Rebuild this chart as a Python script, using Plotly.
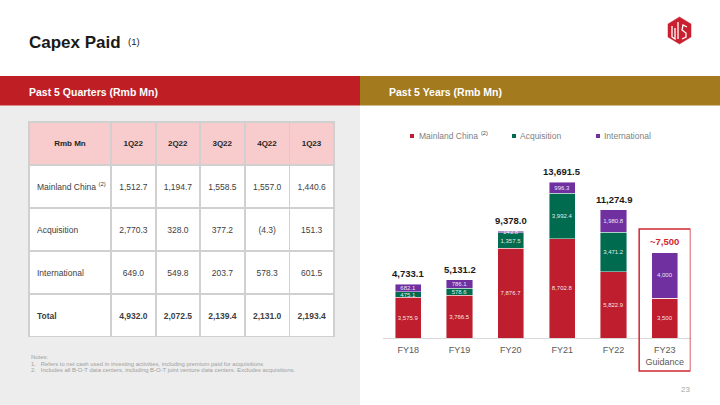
import plotly.graph_objects as go

W, H = 720, 405
def px(x): return x / W
def py(y): return 1 - y / H

FONT = "Arial, Liberation Sans, sans-serif"
NB = "\u00a0"

# ---------------- data ----------------
quarters = ["1Q22", "2Q22", "3Q22", "4Q22", "1Q23"]
row_labels = ["Mainland" + NB + "China" + NB + "<sup>(2)</sup>", "Acquisition", "International", "<b>Total</b>"]
q_mainland = ["1,512.7", "1,194.7", "1,558.5", "1,557.0", "1,440.6"]
q_acquisition = ["2,770.3", "328.0", "377.2", "(4.3)", "151.3"]
q_international = ["649.0", "549.8", "203.7", "578.3", "601.5"]
q_total = ["4,932.0", "2,072.5", "2,139.4", "2,131.0", "2,193.4"]

years = ["FY18", "FY19", "FY20", "FY21", "FY22", "FY23<br>Guidance"]
y_mainland = [3575.9, 3766.5, 7876.7, 8702.8, 5822.9, 3500]
y_acquisition = [475.1, 578.6, 1357.5, 3992.4, 3471.2, 0]
y_international = [682.1, 786.1, 143.8, 996.3, 1980.8, 4000]
total_labels = ["4,733.1", "5,131.2", "9,378.0", "13,691.5", "11,274.9", "~7,500"]

RED = "#BE1E2D"
GREEN = "#006B4F"
PURPLE = "#7030A0"

def fmt(v, guidance=False):
    if v == 0:
        return ""
    return f"{v:,.0f}" if guidance else f"{v:,.1f}"

def labels(vals):
    return [fmt(v, i == len(vals) - 1) for i, v in enumerate(vals)]

fig = go.Figure()

# ---------------- table ----------------
def cell(s):
    # invisible leading line to centre the text vertically in the tall rows
    return "<span style='font-size:7px'>" + NB + "</span><br>" + s

cols = [[cell(s) for s in row_labels]]
for i in range(len(quarters)):
    cols.append([cell(q_mainland[i]), cell(q_acquisition[i]), cell(q_international[i]),
                 cell("<b>" + q_total[i] + "</b>")])

fig.add_trace(go.Table(
    domain=dict(x=[px(29), px(334)], y=[py(337), py(122)]),
    columnwidth=[82, 45, 44, 45, 44.5, 44.5],
    header=dict(
        values=[cell("<b>Rmb" + NB + "Mn</b>")] + [cell("<b>" + q + "</b>") for q in quarters],
        fill_color="#F8CBCD", line=dict(color="#D0D0D0", width=1.5),
        align="center", height=43,
        font=dict(family=FONT, size=8, color="#262626"),
    ),
    cells=dict(
        values=cols,
        fill_color="white", line=dict(color="#D0D0D0", width=1.5),
        align=["left"] + ["center"] * 5, height=43,
        font=dict(family=FONT, size=8.5, color="#404040"),
    ),
))

# ---------------- bars ----------------
for name, vals, col in [("Mainland China", y_mainland, RED),
                        ("Acquisition", y_acquisition, GREEN),
                        ("International", y_international, PURPLE)]:
    fig.add_trace(go.Bar(
        x=years, y=vals, name=name, marker=dict(color=col, line=dict(color="rgba(255,255,255,0.55)", width=0.8)),
        text=labels(vals), textposition="inside", insidetextanchor="middle", textangle=0,
        textfont=dict(family=FONT, size=6, color="rgba(255,255,255,0.9)"),
        showlegend=False, hoverinfo="skip",
    ))

totals = [a + b + c for a, b, c in zip(y_mainland, y_acquisition, y_international)]
annotations = []
for i, (yr, t, lab) in enumerate(zip(years, totals, total_labels)):
    guidance = i == len(years) - 1
    annotations.append(dict(
        x=yr, y=t, xref="x", yref="y", text="<b>" + lab + "</b>", showarrow=False,
        yanchor="bottom", yshift=4 if guidance else 3,
        font=dict(family=FONT, size=9.5, color="#D22630" if guidance else "#1A1A1A"),
    ))

# ---------------- static text ----------------
def txt(x, y, s, size, color, bold=False, anchor="left"):
    annotations.append(dict(
        x=px(x), y=py(y), xref="paper", yref="paper", text=("<b>%s</b>" % s) if bold else s,
        showarrow=False, xanchor=anchor, yanchor="middle",
        font=dict(family=FONT, size=size, color=color),
    ))

txt(27, 42, "Capex Paid", 17, "#1A1A1A", bold=True)
txt(126, 41.5, "(1)", 9.5, "#1A1A1A")
txt(27, 92, "Past 5 Quarters (Rmb Mn)", 10.5, "white", bold=True)
txt(387, 92, "Past 5 Years (Rmb Mn)", 10.5, "white", bold=True)
txt(29, 357, "Notes:", 5.9, "#A0A0A0")
txt(29, 363.5, "1.&nbsp;&nbsp;&nbsp;Refers to net cash used in investing activities, including premium paid for acquisitions", 5.9, "#A0A0A0")
txt(29, 369.5, "2.&nbsp;&nbsp;&nbsp;Includes all B-O-T data centers, including B-O-T joint venture data centers. Excludes acquisitions.", 5.9, "#A0A0A0")
txt(692, 389, "23", 8, "#A6A6A6", anchor="right")

# manual legend
txt(417, 136, "Mainland China", 8.5, "#7F7F7F")
txt(479, 133, "(2)", 5.5, "#404040")
txt(518, 136, "Acquisition", 8.5, "#7F7F7F")
txt(602, 136, "International", 8.5, "#7F7F7F")

shapes = []
def rect(x0, y0, x1, y1, fill, line=None, lw=0, layer="below"):
    shapes.append(dict(type="rect", xref="paper", yref="paper", x0=px(x0), x1=px(x1),
                       y0=py(y1), y1=py(y0), fillcolor=fill, layer=layer,
                       line=dict(color=line or fill, width=lw)))

rect(0, 105.5, 360, 405, "#EDEDED")
rect(0, 76, 360, 105.5, "#BE1E24")
rect(360, 76, 720, 105.5, "#A47A1E")
rect(410, 134, 414, 138, RED, layer="above")
rect(512, 134, 516, 138, GREEN, layer="above")
rect(596, 134, 600, 138, PURPLE, layer="above")

# logo
def path(pts, close=True):
    s = "M " + " L ".join("%f,%f" % (px(x), py(y)) for x, y in pts)
    return s + (" Z" if close else "")
shapes.append(dict(type="path", xref="paper", yref="paper", layer="above",
                   path=path([(668, 24), (679.5, 17), (691, 24), (691, 37), (679.5, 44), (668, 37)]),
                   fillcolor="#C8202F", line=dict(color="#C8202F", width=0.5)))
for seg in [[(672, 26), (672, 37), (675, 39), (675, 28)],
            [(678, 22), (678, 39)],
            [(687, 27), (683, 25), (682, 30), (686, 33), (686, 37), (682, 39)]]:
    shapes.append(dict(type="path", xref="paper", yref="paper", layer="above",
                       path=path(seg, close=False), line=dict(color="white", width=1.3)))

# FY23 guidance box
shapes.append(dict(type="rect", xref="x", yref="paper", x0=4.5, x1=5.5, y0=py(371), y1=py(229),
                   line=dict(color="#D22630", width=1.5), fillcolor="rgba(0,0,0,0)", layer="above"))

fig.update_layout(
    width=W, height=H, margin=dict(l=0, r=0, t=0, b=0),
    paper_bgcolor="white", plot_bgcolor="rgba(0,0,0,0)",
    barmode="stack", bargap=0.49,
    uniformtext=dict(minsize=6, mode="show"),
    xaxis=dict(domain=[px(382.5), px(690.5)], range=[-0.5, 5.5], showgrid=False,
               showline=True, linecolor="#D9D9D9", linewidth=1, ticks="outside", ticklen=3,
               tickcolor="rgba(0,0,0,0)", tickfont=dict(family=FONT, size=9, color="#595959"),
               fixedrange=True),
    yaxis=dict(domain=[py(338), py(155.7)], range=[0, 16000], visible=False, fixedrange=True),
    annotations=annotations, shapes=shapes, showlegend=False,
    font=dict(family=FONT),
)

fig.write_html("out.html", config={"displayModeBar": False},
               post_script="document.body.style.margin='0';document.body.style.overflow='hidden';")
